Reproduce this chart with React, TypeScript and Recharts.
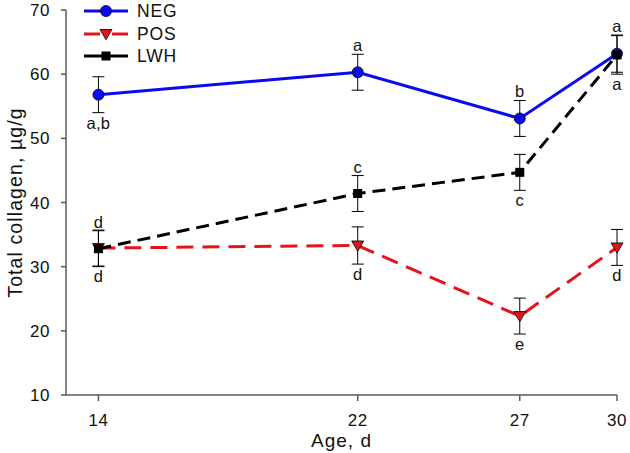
import React from 'react';
import {
  ComposedChart,
  Line,
  Scatter,
  XAxis,
  YAxis,
  ErrorBar,
  Legend,
  Label,
} from 'recharts';

// ---- data ----
const ages = [14, 22, 27, 30];
const xTicks = [14, 22, 27, 30];
const yTicks = [10, 20, 30, 40, 50, 60, 70];

const negValues = [56.8, 60.3, 53.1, 63.2];
const negErrors = [2.8, 2.8, 2.8, 2.9];
const negLetters = ['a,b', 'a', 'b', 'a'];
const negSides = ['below', 'above', 'above', 'above'];

const posValues = [32.9, 33.3, 22.3, 33.0];
const posErrors = [2.8, 2.9, 2.8, 2.8];
const posLetters = ['d', 'd', 'e', 'd'];
const posSides = ['below', 'below', 'below', 'below'];

const lwhValues = [32.8, 41.4, 44.7, 63.0];
const lwhErrors = [2.8, 2.8, 2.8, 3.0];
const lwhLetters = ['d', 'c', 'c', 'a'];
const lwhSides = ['above', 'above', 'below', 'below'];

const seriesNames = ['NEG', 'POS', 'LWH'];

const BLUE = '#0a0af0';
const RED = '#e3141b';
const BLACK = '#000000';
const AXIS = '#5a5a5a';
const FONT = '"Liberation Sans", Arial, sans-serif';

const rows = ages.map((age, i) => ({
  age,
  neg: negValues[i],
  negErr: negErrors[i],
  pos: posValues[i],
  posErr: posErrors[i],
  lwh: lwhValues[i],
  lwhErr: lwhErrors[i],
}));

const buildLabels = (vals: number[], errs: number[], letters: string[], sides: string[]) =>
  ages.map((age, i) => ({
    age,
    y: sides[i] === 'above' ? vals[i] + errs[i] : vals[i] - errs[i],
    text: letters[i],
    side: sides[i],
  }));

const labelPoints = [
  ...buildLabels(negValues, negErrors, negLetters, negSides),
  ...buildLabels(posValues, posErrors, posLetters, posSides),
  ...buildLabels(lwhValues, lwhErrors, lwhLetters, lwhSides),
];

const circleDot = (props: any) => {
  const { cx, cy, index } = props;
  if (cx == null || cy == null) return <g key={`c${index}`} />;
  return <circle key={`c${index}`} cx={cx} cy={cy} r={5.5} fill={BLUE} stroke="#000" strokeWidth={0.8} />;
};

const triangleDot = (props: any) => {
  const { cx, cy, index } = props;
  if (cx == null || cy == null) return <g key={`t${index}`} />;
  const s = 6;
  const pts = `${cx - s},${cy - s * 0.75} ${cx + s},${cy - s * 0.75} ${cx},${cy + s * 0.95}`;
  return <polygon key={`t${index}`} points={pts} fill={RED} stroke="#000" strokeWidth={0.8} />;
};

const squareDot = (props: any) => {
  const { cx, cy, index } = props;
  if (cx == null || cy == null) return <g key={`s${index}`} />;
  const s = 4.5;
  return <rect key={`s${index}`} x={cx - s} y={cy - s} width={s * 2} height={s * 2} fill={BLACK} />;
};

const letterShape = (props: any) => {
  const { cx, cy, payload } = props;
  if (cx == null || cy == null) return <g />;
  const above = payload.side === 'above';
  return (
    <text
      x={cx}
      y={above ? cy - 3 : cy + 16}
      textAnchor="middle"
      fontSize={16.5}
      fontFamily={FONT}
      letterSpacing={0.3}
      fill="#111"
    >
      {payload.text}
    </text>
  );
};

const legendStyles = [
  { color: BLUE, dash: undefined as string | undefined, marker: 'circle' },
  { color: RED, dash: '16 12', marker: 'triangle' },
  { color: BLACK, dash: undefined as string | undefined, marker: 'square' },
];

const renderLegend = () => (
  <div style={{ fontFamily: FONT }}>
    {seriesNames.map((name, i) => {
      const st = legendStyles[i];
      return (
        <div key={name} style={{ display: 'flex', alignItems: 'center', height: 22.5 }}>
          <svg width={44} height={22} style={{ display: 'block' }}>
            <line x1={0} y1={11} x2={44} y2={11} stroke={st.color} strokeWidth={3} strokeDasharray={st.dash} />
            {st.marker === 'circle' && <circle cx={22} cy={11} r={5.5} fill={BLUE} stroke="#000" strokeWidth={0.8} />}
            {st.marker === 'triangle' && (
              <polygon points={`16,6.5 28,6.5 22,16.7`} fill={RED} stroke="#000" strokeWidth={0.8} />
            )}
            {st.marker === 'square' && <rect x={17.5} y={6.5} width={9} height={9} fill={BLACK} />}
          </svg>
          <span style={{ marginLeft: 9, fontSize: 17.5, letterSpacing: 0.8, color: '#111', lineHeight: '22px' }}>
            {name}
          </span>
        </div>
      );
    })}
  </div>
);

export default function App() {
  return (
    <div style={{ position: 'absolute', left: 0, top: 0, width: 630, height: 453, background: '#fff' }}>
      <ComposedChart
        width={630}
        height={453}
        data={rows}
        margin={{ top: 10, right: 13, bottom: 0, left: 0 }}
      >
        <XAxis
          dataKey="age"
          type="number"
          domain={[13, 30]}
          ticks={xTicks}
          height={58}
          stroke={AXIS}
          strokeWidth={1.5}
          tickSize={6}
          tickMargin={13}
          tick={{ fill: '#111', fontSize: 17, fontFamily: FONT, letterSpacing: 0.5 }}
        >
          <Label
            value="Age, d"
            position="insideBottom"
            offset={6}
            style={{ fill: '#111', fontSize: 19, fontFamily: FONT, letterSpacing: 1 }}
          />
        </XAxis>
        <YAxis
          type="number"
          domain={[10, 70]}
          ticks={yTicks}
          width={66}
          stroke={AXIS}
          strokeWidth={1.5}
          tickSize={5}
          tickMargin={11}
          tick={{ fill: '#111', fontSize: 17, fontFamily: FONT, letterSpacing: 0.5 }}
        >
          <Label
            value="Total collagen, µg/g"
            angle={-90}
            position="center"
            dx={-18}
            style={{ fill: '#111', fontSize: 19.5, fontFamily: FONT, letterSpacing: 1.1, textAnchor: 'middle' }}
          />
        </YAxis>
        <Legend
          layout="vertical"
          align="center"
          verticalAlign="middle"
          content={renderLegend}
          wrapperStyle={{ left: 84, top: 0, width: 140 }}
        />
        <Line
          type="linear"
          dataKey="pos"
          name="POS"
          stroke={RED}
          strokeWidth={3}
          strokeDasharray="17 9"
          dot={triangleDot}
          activeDot={false}
          isAnimationActive={false}
        >
          <ErrorBar dataKey="posErr" direction="y" width={6} stroke="#000" strokeWidth={1} />
        </Line>
        <Line
          type="linear"
          dataKey="neg"
          name="NEG"
          stroke={BLUE}
          strokeWidth={3}
          dot={circleDot}
          activeDot={false}
          isAnimationActive={false}
        >
          <ErrorBar dataKey="negErr" direction="y" width={6} stroke="#000" strokeWidth={1} />
        </Line>
        <Line
          type="linear"
          dataKey="lwh"
          name="LWH"
          stroke={BLACK}
          strokeWidth={3}
          strokeDasharray="13 7"
          dot={squareDot}
          activeDot={false}
          isAnimationActive={false}
        >
          <ErrorBar dataKey="lwhErr" direction="y" width={6} stroke="#000" strokeWidth={1} />
        </Line>
        <Scatter
          data={labelPoints}
          dataKey="y"
          shape={letterShape}
          isAnimationActive={false}
          legendType="none"
        />
      </ComposedChart>
    </div>
  );
}
